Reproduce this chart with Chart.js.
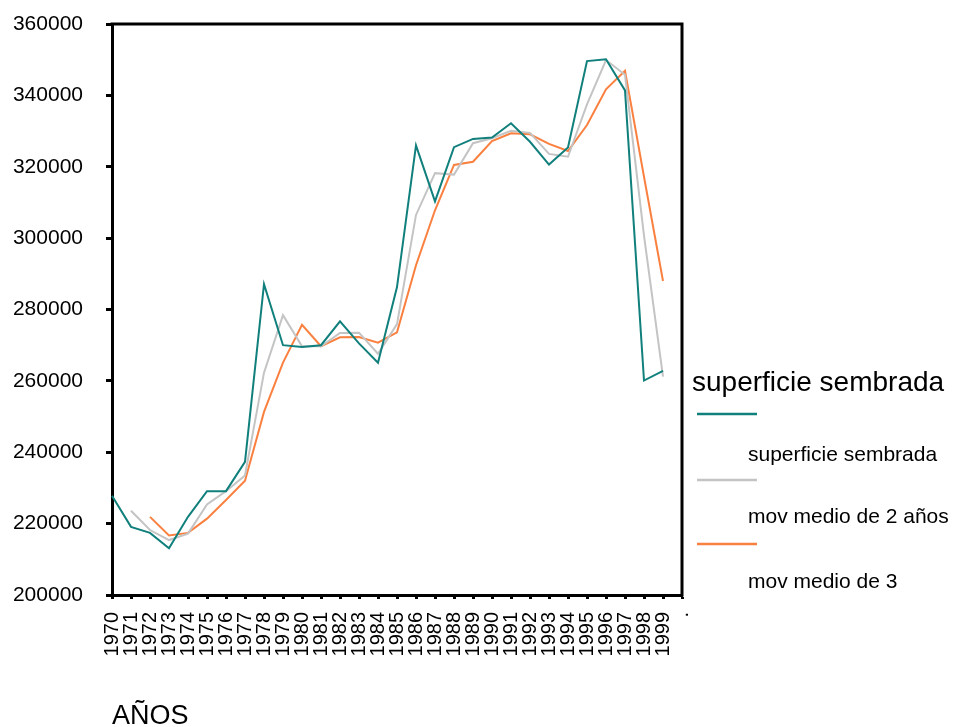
<!DOCTYPE html>
<html>
<head>
<meta charset="utf-8">
<script src="https://cdn.jsdelivr.net/npm/chart.js@4/dist/chart.umd.min.js"></script>
<style>
  html, body { margin: 0; padding: 0; background: #ffffff; }
  #wrap { width: 961px; height: 727px; }
</style>
</head>
<body>
<div id="wrap"><canvas id="c" width="961" height="727"></canvas></div>
<script>
// ---- data ----
const years = ['1970','1971','1972','1973','1974','1975','1976','1977','1978','1979',
               '1980','1981','1982','1983','1984','1985','1986','1987','1988','1989',
               '1990','1991','1992','1993','1994','1995','1996','1997','1998','1999','.'];

const superficieSembrada = [227800, 219100, 217400, 213100, 221900, 229100, 229100, 237300, 287100, 270000,
                            269500, 270000, 276700, 270500, 265100, 286300, 326000, 310300, 325500, 327800,
                            328200, 332200, 327000, 320600, 325400, 349600, 350100, 341400, 260100, 262800, null];

const movMedio2 = [null, 223600, 218200, 215400, 217200, 225400, 229100, 233500, 262300, 278400,
                   269700, 269700, 273400, 273500, 267600, 275900, 306500, 318200, 317800, 326600,
                   328000, 330100, 329500, 323600, 322800, 337500, 349900, 345800, 300700, 261200, null];

const movMedio3 = [null, null, 221900, 216700, 217400, 221400, 226600, 232000, 251300, 265100,
                   275700, 269700, 272200, 272300, 270700, 273600, 292400, 307800, 320500, 321400,
                   327200, 329400, 329100, 326400, 324400, 331700, 341700, 346900, 317200, 288000, null];

const seriesNames = ['superficie sembrada', 'mov medio de 2 años', 'mov medio de 3'];
const legendTitle = 'superficie sembrada';
const xTitle = 'AÑOS';
const yMin = 200000, yMax = 360000, yStep = 20000;

const colors = ['#11807c', '#c4c4c4', '#fa8040'];
const FONT = '"Liberation Sans", Arial, sans-serif';

const framePlugin = {
  id: 'frame',
  afterDatasetsDraw(chart) {
    const {ctx, chartArea: a} = chart;
    ctx.save();
    ctx.strokeStyle = '#000';
    ctx.lineWidth = 3;
    ctx.beginPath();
    ctx.moveTo(a.left - 1.5, a.top);
    ctx.lineTo(a.right, a.top);
    ctx.lineTo(a.right, a.bottom + 1.5);
    ctx.stroke();
    ctx.restore();
  }
};

const legendPlugin = {
  id: 'sideLegend',
  afterDraw(chart) {
    const {ctx} = chart;
    ctx.save();
    ctx.fillStyle = '#000';
    ctx.textBaseline = 'middle';
    ctx.textAlign = 'left';
    ctx.font = '28px ' + FONT;
    ctx.fillText(legendTitle, 692, 383);
    const lineYs = [414, 480, 544];
    const textYs = [455, 517, 582];
    ctx.font = '21px ' + FONT;
    for (let i = 0; i < seriesNames.length; i++) {
      ctx.strokeStyle = colors[i];
      ctx.lineWidth = 2.5;
      ctx.beginPath();
      ctx.moveTo(697, lineYs[i]);
      ctx.lineTo(757, lineYs[i]);
      ctx.stroke();
      ctx.fillStyle = '#000';
      ctx.fillText(seriesNames[i], 748, textYs[i]);
    }
    ctx.restore();
  }
};

const datasets = [superficieSembrada, movMedio2, movMedio3].map((d, i) => ({
  label: seriesNames[i],
  data: d,
  borderColor: colors[i],
  backgroundColor: colors[i],
  borderWidth: 2,
  pointRadius: 0,
  pointHoverRadius: 0,
  tension: 0,
  spanGaps: false,
  fill: false
}));

new Chart(document.getElementById('c'), {
  type: 'line',
  data: { labels: years, datasets },
  options: {
    responsive: false,
    animation: false,
    devicePixelRatio: 1,
    layout: { padding: { top: 24, right: 279, bottom: 0, left: 0 } },
    plugins: {
      legend: { display: false },
      tooltip: { enabled: false },
      title: { display: false }
    },
    scales: {
      x: {
        type: 'category',
        offset: false,
        afterFit(scale) { scale.height = 132; },
        grid: {
          display: true,
          drawOnChartArea: false,
          drawTicks: true,
          tickLength: 4,
          tickWidth: 3,
          tickColor: '#000'
        },
        border: { display: true, color: '#000', width: 3 },
        ticks: {
          autoSkip: false,
          maxRotation: 90,
          minRotation: 90,
          padding: 13,
          color: '#000',
          font: { family: FONT, size: 20 }
        },
        title: {
          display: true,
          text: xTitle,
          align: 'start',
          color: '#000',
          font: { family: FONT, size: 27, lineHeight: 0.78 },
          padding: { top: 0, bottom: 0 }
        }
      },
      y: {
        min: yMin,
        max: yMax,
        afterFit(scale) {
          scale.width = 112;
          scale.paddingTop = 0;
          scale.paddingBottom = 0;
        },
        grid: {
          display: true,
          drawOnChartArea: false,
          drawTicks: true,
          tickLength: 6,
          tickWidth: 3,
          tickColor: '#000'
        },
        border: { display: true, color: '#000', width: 3 },
        ticks: {
          stepSize: yStep,
          padding: 23,
          color: '#000',
          font: { family: FONT, size: 21 },
          callback: (v) => String(v)
        }
      }
    }
  },
  plugins: [framePlugin, legendPlugin]
});
</script>
</body>
</html>
